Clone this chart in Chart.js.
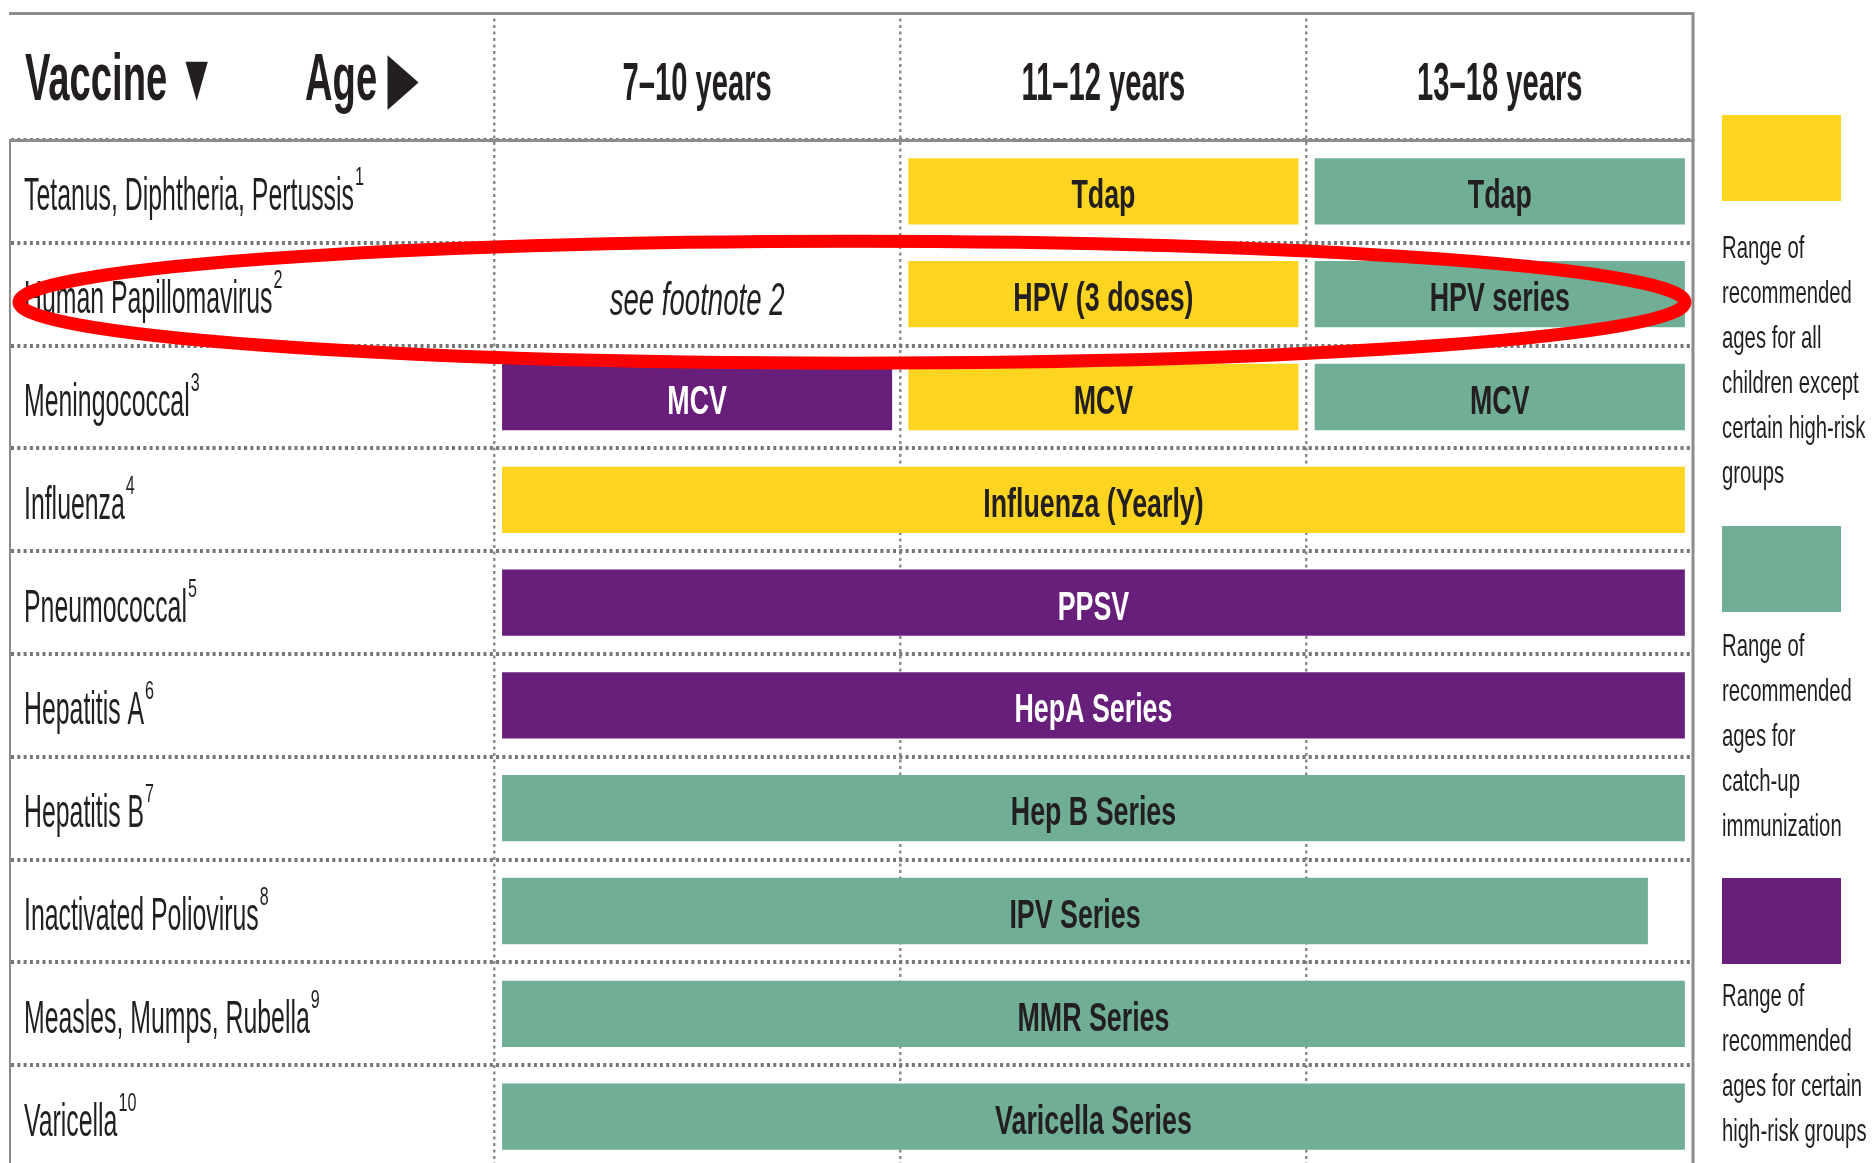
<!DOCTYPE html>
<html>
<head>
<meta charset="utf-8">
<title>Recommended immunizations, ages 7–18</title>
<script src="https://cdn.jsdelivr.net/npm/chart.js@4/dist/chart.umd.min.js"></script>
<style>
  body { margin: 0; background: #fff; overflow: hidden; }
  #wrap {
    position: relative; width: 1874px; height: 1163px; overflow: hidden;
    font-family: 'Liberation Sans', Arial, Helvetica, sans-serif;
    color: #231f20;
  }
  /* the last row runs a few pixels past the bottom of the picture */
  #chartBox { position: absolute; left: 0; top: 0; width: 1874px; height: 1168px; }
  .key { position: absolute; left: 1722px; width: 150px; }
  .key .swatch { width: 119px; height: 86px; }
  .key p {
    margin: 0; font-size: 32px; line-height: 45px; white-space: nowrap;
    transform: scaleX(0.635); transform-origin: left top;
  }
</style>
</head>
<body>
<div id="wrap">
  <div id="chartBox"><canvas id="schedule"></canvas></div>
  <div id="key"></div>
</div>
<script>
const FONT = "'Liberation Sans', Arial, Helvetica, sans-serif";
const INK = "#231f20";
const LINE = "#8c8c8c";

// rows and columns of the schedule
const vaccines = [
  "Tetanus, Diphtheria, Pertussis",
  "Human Papillomavirus",
  "Meningococcal",
  "Influenza",
  "Pneumococcal",
  "Hepatitis A",
  "Hepatitis B",
  "Inactivated Poliovirus",
  "Measles, Mumps, Rubella",
  "Varicella"
];
const footnotes = ["1", "2", "3", "4", "5", "6", "7", "8", "9", "10"];
const ageLabels = ["7–10 years", "11–12 years", "13–18 years"];

// spans in age columns (0 = start of 7–10, 3 = end of 13–18)
const routineSpans = [[1, 2], [1, 2], [1, 2], [0, 3], null, null, null, null, null, null];
const catchUpSpans = [[2, 3], [2, 3], [2, 3], null, null, null, [0, 3], [0, 2.86], [0, 3], [0, 3]];
const highRiskSpans = [null, null, [0, 1], null, [0, 3], [0, 3], null, null, null, null];

const routineText = ["Tdap", "HPV (3 doses)", "MCV", "Influenza (Yearly)", "", "", "", "", "", ""];
const catchUpText = ["Tdap", "HPV series", "MCV", "", "", "", "Hep B Series", "IPV Series", "MMR Series", "Varicella Series"];
const highRiskText = ["", "", "MCV", "", "PPSV", "HepA Series", "", "", "", ""];

// text written in the 7–10 column where there is no bar
const columnNotes = ["", "see footnote 2", "", "", "", "", "", "", "", ""];

const seriesNames = [
  "Range of\nrecommended\nages for all\nchildren except\ncertain high-risk\ngroups",
  "Range of\nrecommended\nages for\ncatch-up\nimmunization",
  "Range of\nrecommended\nages for certain\nhigh-risk groups"
];
const seriesColors = ["#fdd41f", "#71ae96", "#671f7b"];
const seriesTextColors = [INK, INK, "#ffffff"];

// the printed table is cut a little before the end of the 13–18 column
const X_MIN = -1.191;
const X_MAX = 2.951;
const GAP = 0.02; // small white gap at each end of a bar
const toBars = spans => spans.map(s => s ? [s[0] + GAP, Math.min(s[1], X_MAX) - GAP] : null);

const datasets = [routineSpans, catchUpSpans, highRiskSpans].map((spans, i) => ({
  label: seriesNames[i],
  data: toBars(spans),
  backgroundColor: seriesColors[i],
  barText: [routineText, catchUpText, highRiskText][i],
  textColor: seriesTextColors[i],
  grouped: false,
  categoryPercentage: 1,
  barPercentage: 0.645
}));

// the original uses a tall condensed face, so text is squeezed sideways
function drawText(ctx, text, x, y, o) {
  ctx.save();
  ctx.font = `${o.style || ""} ${o.weight || ""} ${o.size}px ${FONT}`;
  ctx.fillStyle = o.color || INK;
  ctx.textAlign = o.align || "left";
  ctx.textBaseline = "alphabetic";
  ctx.translate(x, y);
  ctx.scale(o.sx, 1);
  ctx.fillText(text, 0, 0);
  const w = ctx.measureText(text).width * o.sx;
  ctx.restore();
  return w;
}

const barText = {
  id: "barText",
  afterDatasetsDraw(chart) {
    const ctx = chart.ctx;
    chart.data.datasets.forEach((ds, di) => {
      chart.getDatasetMeta(di).data.forEach((bar, i) => {
        if (!ds.barText[i] || !ds.data[i]) return;
        drawText(ctx, ds.barText[i], (bar.x + bar.base) / 2, bar.y + 17,
          { size: 40, weight: "bold", sx: 0.67, align: "center", color: ds.textColor });
      });
    });
  }
};

const tableText = {
  id: "tableText",
  afterDraw(chart) {
    const { ctx, chartArea, scales: { x, y } } = chart;
    ctx.save();
    ctx.strokeStyle = LINE;
    ctx.lineWidth = 3;
    ctx.beginPath();
    ctx.moveTo(chartArea.left - 1, x.top + 1.5);
    ctx.lineTo(chartArea.right + 1, x.top + 1.5);
    ctx.moveTo(chartArea.right, x.top);
    ctx.lineTo(chartArea.right, chartArea.bottom);
    ctx.stroke();
    ctx.restore();

    // corner header and age headers
    const base = x.top + 88;
    drawText(ctx, "Vaccine ▼", chartArea.left + 15, base, { size: 67, weight: "bold", sx: 0.57 });
    drawText(ctx, "Age ▶", chartArea.left + 295, base, { size: 67, weight: "bold", sx: 0.57 });
    ageLabels.forEach((label, i) => {
      const mid = (i + Math.min(i + 1, X_MAX)) / 2;
      drawText(ctx, label, x.getPixelForValue(mid), base, { size: 54, weight: "bold", sx: 0.54, align: "center" });
    });

    // vaccine names with footnote numbers
    vaccines.forEach((name, i) => {
      const yb = y.getPixelForValue(i) + 19;
      const w = drawText(ctx, name, chartArea.left + 14, yb, { size: 46, sx: 0.54 });
      drawText(ctx, footnotes[i], chartArea.left + 15 + w, yb - 25, { size: 26, sx: 0.62 });
    });

    // notes inside empty cells
    columnNotes.forEach((note, i) => {
      if (note) drawText(ctx, note, x.getPixelForValue(0.5), y.getPixelForValue(i) + 21,
        { size: 46, style: "italic", sx: 0.6, align: "center" });
    });

    // red highlight around the HPV row
    ctx.save();
    ctx.strokeStyle = "#ff0000";
    ctx.lineWidth = 13;
    ctx.beginPath();
    ctx.ellipse(852, y.getPixelForValue(1) + 8, 833, 61, 0, 0, Math.PI * 2);
    ctx.stroke();
    ctx.restore();
  }
};

new Chart(document.getElementById("schedule"), {
  type: "bar",
  data: { labels: vaccines, datasets },
  options: {
    indexAxis: "y",
    responsive: true,
    maintainAspectRatio: false,
    animation: false,
    layout: { padding: { top: 12, left: 10, right: 181, bottom: 0 } },
    plugins: { legend: { display: false }, tooltip: { enabled: false } },
    scales: {
      x: {
        type: "linear",
        position: "top",
        min: X_MIN,
        max: X_MAX,
        afterBuildTicks: s => { s.ticks = ageLabels.map((_, i) => ({ value: i })); },
        afterFit: s => { s.height = 128; s.paddingLeft = 0; s.paddingRight = 0; },
        grid: {
          color: LINE,
          lineWidth: 2.5,
          tickLength: 128,
          tickColor: LINE,
          tickWidth: 2.5,
          tickBorderDash: [3, 3.5]
        },
        border: { display: true, color: LINE, width: 3, dash: [3, 3.5] },
        ticks: { display: false }
      },
      y: {
        type: "category",
        offset: true,
        afterFit: s => { s.width = 0; s.paddingTop = 0; s.paddingBottom = 0; },
        grid: { offset: true, color: "#767676", lineWidth: 4, drawTicks: false },
        border: { display: true, color: LINE, width: 2, dash: [3, 3.3] },
        ticks: { display: false }
      }
    }
  },
  plugins: [barText, tableText]
});

// key on the right
const keyTops = [115, 526, 878];
const keyTextGap = [24, 11, 9];
const keyEl = document.getElementById("key");
seriesNames.forEach((name, i) => {
  const item = document.createElement("div");
  item.className = "key";
  item.style.top = keyTops[i] + "px";
  item.innerHTML = `<div class="swatch" style="background:${seriesColors[i]}"></div>
    <p style="margin-top:${keyTextGap[i]}px">${name.split("\n").join("<br>")}</p>`;
  keyEl.appendChild(item);
});
</script>
</body>
</html>
